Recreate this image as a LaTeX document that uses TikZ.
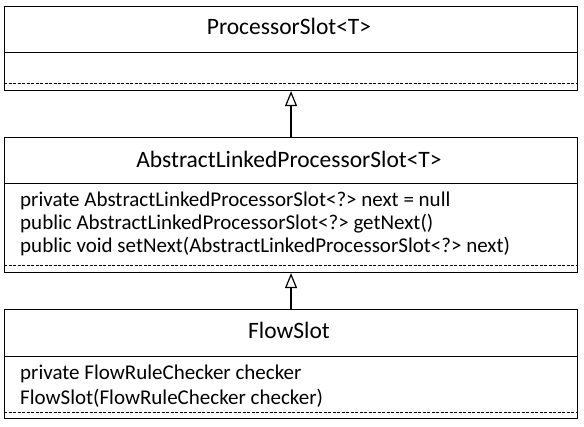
\documentclass[tikz,border=0pt]{standalone}
\usepackage{fontspec}
\setmainfont{Carlito}
\usetikzlibrary{arrows.meta}
\begin{document}
\begin{tikzpicture}[x=1pt,y=-1pt,
  classbox/.style={draw, line width=1.1pt, rectangle, inner sep=0pt, anchor=north west, minimum width=573pt},
  titletext/.style={font=\fontsize{23.5}{27}\selectfont, inner sep=0pt},
  member/.style={font=\fontsize{21}{24}\selectfont, anchor=west, inner sep=0pt},
  solidsep/.style={line width=1pt},
  dashsep/.style={line width=1pt, dash pattern=on 3pt off 1.5pt},
  inherit/.style={line width=1.2pt, -{Triangle[open,length=15pt,width=12pt]}}]
\useasboundingbox (0,0) rectangle (584,426);
% box 1
\node[classbox, minimum height=84pt] (b1) at (4,6) {};
\node[titletext] (t1) at (289,26) {ProcessorSlot<T>};
\draw[solidsep] (b1.west |- 0,52) -- (b1.east |- 0,52);
\draw[dashsep] (b1.west |- 0,83) -- (b1.east |- 0,83);
% box 2
\node[classbox, minimum height=135pt] (b2) at (4,137) {};
\node[titletext] (t2) at (289,159) {AbstractLinkedProcessorSlot<T>};
\draw[solidsep] (b2.west |- 0,183) -- (b2.east |- 0,183);
\node[member] (m21) at (20,201) {private AbstractLinkedProcessorSlot<?> next = null};
\node[member] (m22) at (20,224) {public AbstractLinkedProcessorSlot<?> getNext()};
\node[member] (m23) at (20,247) {public void setNext(AbstractLinkedProcessorSlot<?> next)};
\draw[dashsep] (b2.west |- 0,265) -- (b2.east |- 0,265);
% box 3
\node[classbox, minimum height=109pt] (b3) at (4,309) {};
\node[titletext] (t3) at (289,330) {FlowSlot};
\draw[solidsep] (b3.west |- 0,356) -- (b3.east |- 0,356);
\node[member] (m31) at (20,374) {private FlowRuleChecker checker};
\node[member] (m32) at (20,398) {FlowSlot(FlowRuleChecker checker)};
\draw[dashsep] (b3.west |- 0,412) -- (b3.east |- 0,412);
% inheritance
\draw[inherit] (b2.north) -- (b1.south);
\draw[inherit] (b3.north) -- (b2.south);
\end{tikzpicture}
\end{document}
